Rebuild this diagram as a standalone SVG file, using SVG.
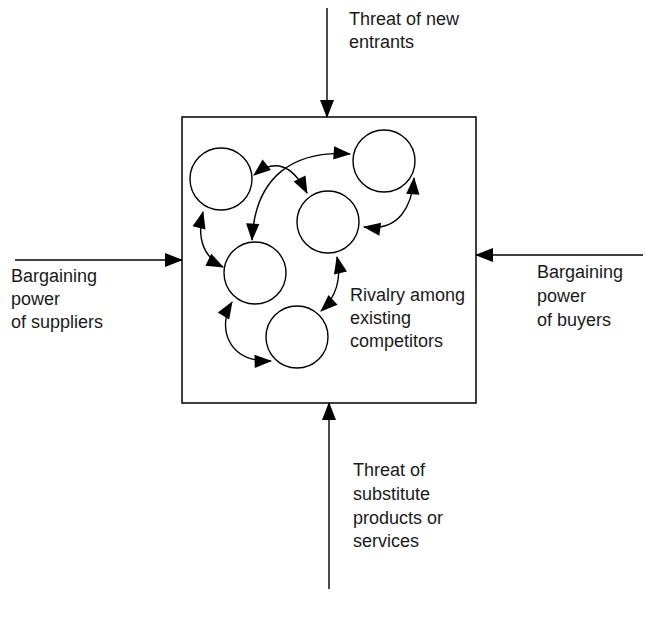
<svg xmlns="http://www.w3.org/2000/svg" width="646" height="617" viewBox="0 0 646 617">
<style>
  .lbl { font-family: "Liberation Sans", Arial, sans-serif; font-size: 18px; fill: #1a1a1a; }
  .ln { fill: none; stroke: #000; stroke-width: 1.4; }
  .node { fill: #fff; stroke: #000; stroke-width: 1.4; }
</style>
<defs>
  <marker id="ah" viewBox="0 0 18 14" refX="17" refY="7" markerUnits="strokeWidth" markerWidth="13.5" markerHeight="10" orient="auto-start-reverse" overflow="visible">
    <path d="M0,0 L18,7 L0,14 z" fill="#000"/>
  </marker>
  <marker id="sh" viewBox="0 0 17 13" refX="16" refY="6.5" markerUnits="strokeWidth" markerWidth="12.5" markerHeight="9.5" orient="auto-start-reverse" overflow="visible">
    <path d="M0,0 L17,6.5 L0,13 z" fill="#000"/>
  </marker>
</defs>
<rect x="0" y="0" width="646" height="617" fill="#fff"/>

<g id="market">
  <rect x="182" y="117" width="294" height="286" fill="none" stroke="#000" stroke-width="1.5"/>
  <text class="lbl" x="350" y="301">Rivalry among</text>
  <text class="lbl" x="350" y="324">existing</text>
  <text class="lbl" x="350" y="347">competitors</text>
</g>

<g id="firm1"><circle class="node" cx="221" cy="179" r="31"/></g>
<g id="firm2"><circle class="node" cx="384" cy="161" r="31"/></g>
<g id="firm3"><circle class="node" cx="328" cy="222" r="31"/></g>
<g id="firm4"><circle class="node" cx="255" cy="273" r="31"/></g>
<g id="firm5"><circle class="node" cx="297" cy="337" r="31"/></g>

<g id="new-entrants">
  <text class="lbl" x="349" y="25">Threat of new</text>
  <text class="lbl" x="349" y="48">entrants</text>
</g>
<g id="suppliers">
  <text class="lbl" x="11" y="282">Bargaining</text>
  <text class="lbl" x="11" y="305">power</text>
  <text class="lbl" x="11" y="328">of suppliers</text>
</g>
<g id="buyers">
  <text class="lbl" x="537" y="278">Bargaining</text>
  <text class="lbl" x="537" y="302">power</text>
  <text class="lbl" x="537" y="326">of buyers</text>
</g>
<g id="substitutes">
  <text class="lbl" x="353" y="476">Threat of</text>
  <text class="lbl" x="353" y="500">substitute</text>
  <text class="lbl" x="353" y="524">products or</text>
  <text class="lbl" x="353" y="547">services</text>
</g>

<g id="connectors">
  <path class="ln" d="M327,8 L327,117" marker-end="url(#ah)"/>
  <path class="ln" d="M15,260 L182,260" marker-end="url(#ah)"/>
  <path class="ln" d="M643,255 L476,255" marker-end="url(#ah)"/>
  <path class="ln" d="M329,589 L329,403" marker-end="url(#ah)"/>

  <path class="ln" d="M254,175 Q285,150 307,193" marker-start="url(#sh)" marker-end="url(#sh)"/>
  <path class="ln" d="M350,154 C295,150 255,175 252,240" marker-start="url(#sh)" marker-end="url(#sh)"/>
  <path class="ln" d="M414,178 C412,205 400,232 364,227" marker-start="url(#sh)" marker-end="url(#sh)"/>
  <path class="ln" d="M203,212 C196,240 205,258 223,267" marker-start="url(#sh)" marker-end="url(#sh)"/>
  <path class="ln" d="M337,257 C342,280 335,298 321,311" marker-start="url(#sh)" marker-end="url(#sh)"/>
  <path class="ln" d="M232,302 C218,325 225,362 271,361" marker-start="url(#sh)" marker-end="url(#sh)"/>
</g>
</svg>
